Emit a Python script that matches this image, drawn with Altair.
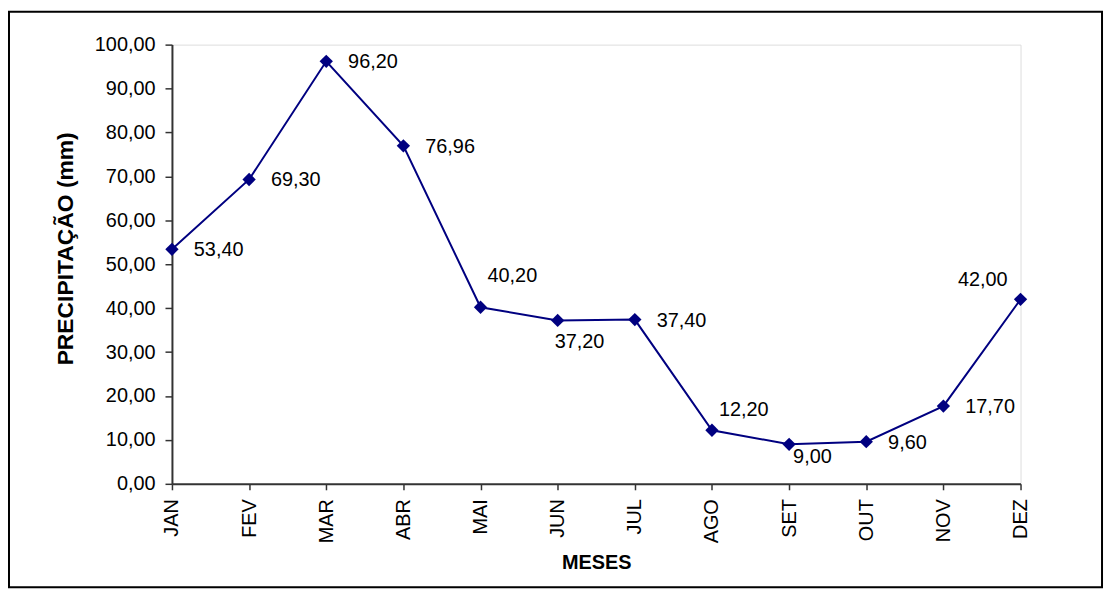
import altair as alt
import pandas as pd

# ---- data ----
months = ["JAN", "FEV", "MAR", "ABR", "MAI", "JUN", "JUL", "AGO", "SET", "OUT", "NOV", "DEZ"]
precip = [53.40, 69.30, 96.20, 76.96, 40.20, 37.20, 37.40, 12.20, 9.00, 9.60, 17.70, 42.00]
y_ticks = [0, 10, 20, 30, 40, 50, 60, 70, 80, 90, 100]

# where each value label sits relative to its point (style, not data)
label_side = ["right", "right", "right", "right", "high", "below", "right",
              "above", "belowright", "right", "right", "leftabove"]
placements = {
    "right": dict(align="left", dx=22, dy=1),
    "high": dict(align="left", dx=7, dy=-31),
    "above": dict(align="left", dx=7, dy=-20),
    "below": dict(align="left", dx=-3, dy=22),
    "belowright": dict(align="left", dx=4, dy=13),
    "leftabove": dict(align="right", dx=-13, dy=-19),
}

df = pd.DataFrame({"mes": months, "valor": precip, "lado": label_side})

FONT = "Liberation Sans"
NAVY = "#000080"
W, H = 854, 442

x_enc = alt.X("mes:N", sort=months,
              scale=alt.Scale(type="point", padding=0, domain=months),
              axis=alt.Axis(title="MESES", labelAngle=-90, labelFontSize=20,
                            labelFont=FONT, labelColor="black", labelPadding=9,
                            tickSize=6, tickColor="#333", tickWidth=1.5,
                            domainColor="#333", domainWidth=2,
                            titleFont=FONT, titleFontSize=20, titleFontWeight="bold",
                            titleColor="black", titlePadding=10, grid=False))
y_enc = alt.Y("valor:Q",
              scale=alt.Scale(domain=[0, 100], nice=False, zero=True),
              axis=alt.Axis(title="PRECIPITAÇÃO (mm)", values=y_ticks,
                            labelExpr="replace(format(datum.value, '.2f'), '.', ',')",
                            labelFontSize=20, labelFont=FONT, labelColor="black",
                            labelPadding=10, tickSize=7, tickColor="#333", tickWidth=1.5,
                            domainColor="#333", domainWidth=2,
                            titleFont=FONT, titleFontSize=23, titleFontWeight="bold",
                            titleColor="black", titleBaseline="alphabetic",
                            titleX=-100, titleY=205, titleAngle=270, grid=False))

base = alt.Chart(df)

line = base.mark_line(color=NAVY, strokeWidth=2).encode(x=x_enc, y=y_enc)
pts = base.mark_point(shape="diamond", filled=True, color=NAVY, size=180, opacity=1).encode(
    x=alt.X("mes:N", sort=months), y="valor:Q")

text_layers = []
for name, p in placements.items():
    text_layers.append(
        base.transform_filter(alt.datum.lado == name)
        .transform_calculate(rot="replace(format(datum.valor, '.2f'), '.', ',')")
        .mark_text(font=FONT, fontSize=20, color="black", baseline="middle",
                   align=p["align"], dx=p["dx"], dy=p["dy"])
        .encode(x=alt.X("mes:N", sort=months), y="valor:Q", text="rot:N")
    )

frame = alt.Chart(pd.DataFrame({"k": [0]})).mark_rect(
    filled=False, stroke="black", strokeWidth=2).encode(
    x=alt.value(-164), y=alt.value(-33), x2=alt.value(W + 82), y2=alt.value(H + 104))

chart = alt.layer(frame, line, pts, *text_layers).properties(
    width=W, height=H,
    autosize=alt.AutoSizeParams(type="none"),
    padding={"left": 165, "top": 35, "right": 85, "bottom": 106},
).configure_view(stroke="#888888", strokeWidth=2).configure(background="white")

chart.save("out.html", embed_options={"renderer": "svg", "actions": False})
